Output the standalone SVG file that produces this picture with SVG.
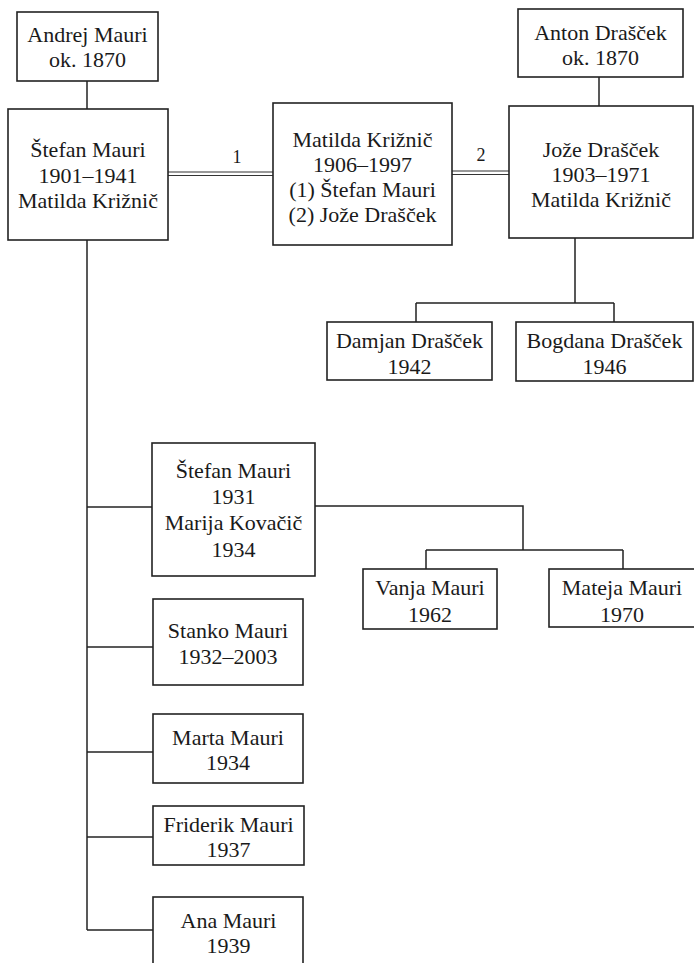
<svg xmlns="http://www.w3.org/2000/svg" width="694" height="963" viewBox="0 0 694 963">
<style>
.box{fill:#fff;stroke:#222;stroke-width:1.6}
.ln{fill:none;stroke:#222;stroke-width:1.5}
.dl{fill:none;stroke:#333;stroke-width:1.2}
text{font-family:'Liberation Serif','DejaVu Serif',serif;font-size:22px;fill:#1a1a1a;text-anchor:middle}
.lbl{font-size:18px}
</style>
<rect width="694" height="963" fill="#fff"/>
<g id="connectors">
<path class="ln" d="M87 81V109"/>
<path class="ln" d="M87 240V930"/>
<path class="ln" d="M599 77V106"/>
<path class="ln" d="M575 238V303M416 303H614M416 303V322M614 303V322"/>
<path class="ln" d="M87 507H152"/>
<path class="ln" d="M315 506H523V550M426 550H623M426 550V569M623 550V569"/>
<path class="ln" d="M87 647H153"/>
<path class="ln" d="M87 752H153"/>
<path class="ln" d="M87 837H153"/>
<path class="ln" d="M87 930H153"/>
<path class="dl" d="M168 172H273M168 175.5H273"/>
<path class="dl" d="M452 171H509M452 174.5H509"/>
<text class="lbl" x="237" y="163">1</text>
<text class="lbl" x="481" y="161">2</text>
</g>
<g id="andrej">
<rect class="box" x="17" y="12" width="141" height="69"/>
<text x="87.5" y="42">Andrej Mauri</text>
<text x="87.5" y="67">ok. 1870</text>
</g>
<g id="stefan">
<rect class="box" x="8" y="109" width="160" height="131"/>
<text x="88" y="157">Štefan Mauri</text>
<text x="88" y="183">1901–1941</text>
<text x="88" y="208">Matilda Križnič</text>
</g>
<g id="matilda">
<rect class="box" x="273" y="103" width="179" height="142"/>
<text x="362.5" y="147">Matilda Križnič</text>
<text x="362.5" y="172">1906–1997</text>
<text x="362.5" y="197">(1) Štefan Mauri</text>
<text x="362.5" y="222">(2) Jože Drašček</text>
</g>
<g id="anton">
<rect class="box" x="518" y="9" width="165" height="68"/>
<text x="600.5" y="40">Anton Drašček</text>
<text x="600.5" y="65">ok. 1870</text>
</g>
<g id="joze">
<rect class="box" x="509" y="106" width="184" height="132"/>
<text x="601" y="157">Jože Drašček</text>
<text x="601" y="182">1903–1971</text>
<text x="601" y="207">Matilda Križnič</text>
</g>
<g id="damjan">
<rect class="box" x="327" y="322" width="165" height="58"/>
<text x="409.5" y="348">Damjan Drašček</text>
<text x="409.5" y="374">1942</text>
</g>
<g id="bogdana">
<rect class="box" x="516" y="322" width="177" height="59"/>
<text x="604.5" y="348">Bogdana Drašček</text>
<text x="604.5" y="374">1946</text>
</g>
<g id="stefan-jr">
<rect class="box" x="152" y="443" width="163" height="133"/>
<text x="233.5" y="478">Štefan Mauri</text>
<text x="233.5" y="504">1931</text>
<text x="233.5" y="530">Marija Kovačič</text>
<text x="233.5" y="557">1934</text>
</g>
<g id="vanja">
<rect class="box" x="363" y="569" width="134" height="60"/>
<text x="430" y="595">Vanja Mauri</text>
<text x="430" y="622">1962</text>
</g>
<g id="mateja">
<rect class="box" x="549" y="569" width="150" height="58"/>
<text x="622" y="595">Mateja Mauri</text>
<text x="622" y="622">1970</text>
</g>
<g id="stanko">
<rect class="box" x="153" y="599" width="150" height="86"/>
<text x="228" y="638">Stanko Mauri</text>
<text x="228" y="664">1932–2003</text>
</g>
<g id="marta">
<rect class="box" x="153" y="714" width="150" height="69"/>
<text x="228" y="745">Marta Mauri</text>
<text x="228" y="770">1934</text>
</g>
<g id="friderik">
<rect class="box" x="153" y="806" width="151" height="59"/>
<text x="228.5" y="832">Friderik Mauri</text>
<text x="228.5" y="857">1937</text>
</g>
<g id="ana">
<rect class="box" x="153" y="897" width="150" height="80"/>
<text x="228.5" y="928">Ana Mauri</text>
<text x="228.5" y="953">1939</text>
</g>
</svg>
